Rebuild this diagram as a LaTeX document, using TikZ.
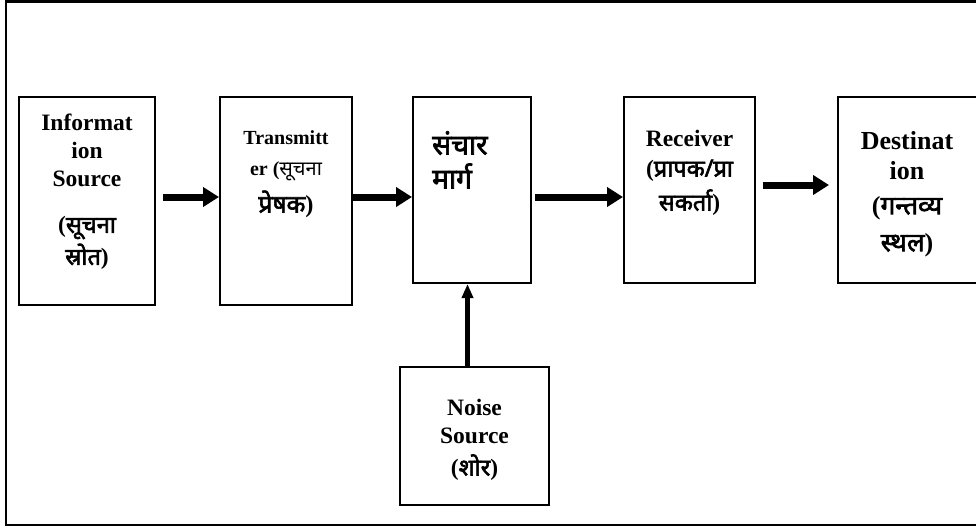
\documentclass[tikz,border=0pt]{standalone}
\usepackage{fontspec}
\setmainfont{Liberation Serif}
\newfontfamily\hindifont[Script=Devanagari,FakeBold=2.5]{Noto Sans}
\newfontfamily\hindilight[Script=Devanagari]{Noto Sans}
\usetikzlibrary{arrows.meta,positioning}
\newcommand{\hi}[1]{{\hindifont #1}}
\tikzstyle{flow} = [line width=7pt,-{Triangle[length=16pt,width=19pt]}]
\tikzstyle{noiseflow} = [line width=4.5pt,-{Triangle[length=14pt,width=11pt]}]

\begin{document}
\begin{tikzpicture}[x=1pt,y=-1pt,
blockbox/.style={draw, line width=2pt, inner sep=0pt},
blocktxt/.style={font=\bfseries\fontsize{23.5}{28}\selectfont, align=center, inner sep=0pt, anchor=north},]
\useasboundingbox (0,0) rectangle (976,531);
\draw[line width=2.5pt] (976,1.5) -- (6,1.5) -- (6,525) -- (976,525);
\node[blockbox, minimum width=136pt, minimum height=208pt](src) at (87,201){};
\node[blockbox, minimum width=132pt, minimum height=208pt](tx) at (286,201){};
\node[blockbox, minimum width=118pt, minimum height=186pt](ch) at (472,190){};
\node[blockbox, minimum width=131pt, minimum height=186pt](rx) at (689.5,190){};
\node[blockbox, minimum width=140pt, minimum height=186pt](dest) at (908,190){};
\node[blockbox, minimum width=149pt, minimum height=138pt](noise) at (474.5,436){};
\node[blocktxt](srctxt) at (87,114) {Informat\\ion\\Source\\[18pt]
(\hi{सूचना}\\[4pt]\hi{स्रोत})};
\node[blocktxt, font=\bfseries\fontsize{20}{26}\selectfont](txtxt) at (286,130) {Transmitt\\[5pt]
er ({\hindilight सूचना}\\[9pt]\fontsize{24.5}{28}\selectfont\hi{प्रेषक})};
\node[blocktxt, align=left, anchor=north west, font=\bfseries\fontsize{28}{34}\selectfont](chtxt) at (432,131) {\hi{संचार}\\\hi{मार्ग}};
\node[blocktxt](rxtxt) at (689.5,130) {Receiver\\[2pt]
(\hi{प्रापक/प्रा}\\[6pt]\hi{सकर्ता})};
\node[blocktxt, font=\bfseries\fontsize{26}{30}\selectfont](desttxt) at (907,131) {Destinat\\ion\\[5pt]
(\hi{गन्तव्य}\\[7pt]\hi{स्थल})};
\node[blocktxt](noisetxt) at (474.5,399) {Noise\\Source\\[4pt](\hi{शोर})};
\draw[flow] ([xshift=7pt,yshift=4pt]src.east) -- ([yshift=4pt]tx.west);
\draw[flow] ([yshift=4pt]tx.east) -- ([yshift=4pt]tx.east -| ch.west);
\draw[flow] ([xshift=3pt,yshift=-7pt]ch.east) -- ([yshift=-7pt]rx.west);
\draw[flow] ([xshift=7pt,yshift=5pt]rx.east) -- ([xshift=-8pt,yshift=5pt]dest.west);
\draw[noiseflow] ([xshift=-7pt]noise.north) -- ([xshift=-7pt]noise.north |- ch.south);
\end{tikzpicture}
\end{document}
